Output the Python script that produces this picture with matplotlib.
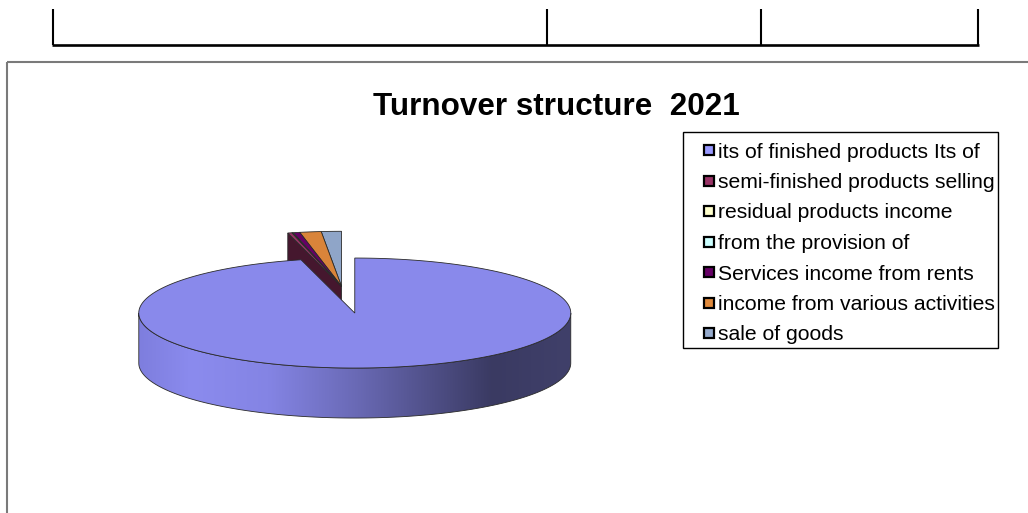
import numpy as np
import matplotlib
matplotlib.use("Agg")
import matplotlib.pyplot as plt
from matplotlib.patches import Polygon, Rectangle
from matplotlib.colors import LinearSegmentedColormap, to_rgb

# ---- data ----
categories = [
    "its of finished products Its of",
    "semi-finished products selling",
    "residual products income",
    "from the provision of",
    "Services income from rents",
    "income from various activities",
    "sale of goods",
]
values = [96.0, 0.3, 0.05, 0.05, 0.5, 1.6, 1.5]
explode = [0.49, 0, 0, 0, 0, 0, 0]
slice_colors = ["#8989EB", "#993366", "#FFFFCC", "#CCFFFF", "#660066", "#D9843A", "#8FA5C8"]
legend_colors = ["#9999FF", "#993366", "#FFFFCC", "#CCFFFF", "#660066", "#E08A3C", "#95AACC"]
title = "Turnover structure  2021"

# ---- layout ----
W, H = 1028, 513
fig = plt.figure(figsize=(W / 100, H / 100), dpi=100)
ax = fig.add_axes([0, 0, 1, 1])
ax.set_xlim(0, W)
ax.set_ylim(H, 0)
ax.axis("off")

# table fragment at top of page
for x in [53, 547, 761, 978]:
    ax.plot([x, x], [9, 45], color="black", lw=1.5, solid_capstyle="butt")
ax.plot([52, 979], [45, 45], color="black", lw=1.9, solid_capstyle="butt")

# chart border
ax.plot([7, W], [62, 62], color="#7a7a7a", lw=1.5, solid_capstyle="butt")
ax.plot([7, 7], [62, H], color="#7a7a7a", lw=1.5, solid_capstyle="butt")

# title
ax.text(556.5, 115, title, ha="center", va="baseline", fontsize=22.6,
        fontweight="bold", family="Liberation Sans", color="black")

# ---- 3D pie ----
cx0, cy0 = 341.5, 286.3   # undisplaced pie centre (top face)
rx, ry, depth = 216.0, 55.0, 50.0
edge = "#2a2a2a"

vals = np.array(values, dtype=float)
fr = vals / vals.sum()
bounds = np.concatenate([[0], np.cumsum(fr)]) * 360.0


def pt(c, th, dz=0.0):
    t = np.radians(th)
    return c[0] + rx * np.sin(t), c[1] - ry * np.cos(t) + dz


def arc(c, a0, a1, dz=0.0, n=None):
    if n is None:
        n = max(3, int(abs(a1 - a0) * 1.5))
    th = np.linspace(a0, a1, n)
    t = np.radians(th)
    return np.column_stack([c[0] + rx * np.sin(t), c[1] - ry * np.cos(t) + dz])


def dark(col, f):
    r, g, b = to_rgb(col)
    return (r * f, g * f, b * f)


centres = []
for i in range(len(vals)):
    m = np.radians((bounds[i] + bounds[i + 1]) / 2)
    e = explode[i]
    centres.append((cx0 + e * rx * np.sin(m), cy0 - e * ry * np.cos(m)))

grad = LinearSegmentedColormap.from_list("side", [
    (0.0, (126 / 255, 126 / 255, 222 / 255)),
    (0.12, (139 / 255, 139 / 255, 238 / 255)),
    (0.3, (132 / 255, 132 / 255, 228 / 255)),
    (0.5, (106 / 255, 106 / 255, 182 / 255)),
    (0.82, (58 / 255, 58 / 255, 98 / 255)),
    (1.0, (64 / 255, 64 / 255, 106 / 255)),
])

# draw back (small) slices first, big slice last
order = sorted(range(len(vals)), key=lambda k: -abs(180 - (bounds[k] + bounds[k + 1]) / 2))
for i in order:
    c = centres[i]
    a0, a1 = bounds[i], bounds[i + 1]
    col = slice_colors[i]
    prev_same = i > 0 and explode[i - 1] == explode[i]
    next_same = i < len(vals) - 1 and explode[i + 1] == explode[i]
    # start radial face
    n0 = a0 - 90
    if -np.cos(np.radians(n0)) > 1e-3 and not prev_same:
        p = pt(c, a0)
        face = [c, p, (p[0], p[1] + depth), (c[0], c[1] + depth)]
        ax.add_patch(Polygon(face, closed=True, fc=dark(col, 0.45), ec=edge, lw=0.6))
    n1 = a1 + 90
    if -np.cos(np.radians(n1)) > 1e-3 and not next_same:
        p = pt(c, a1)
        face = [c, p, (p[0], p[1] + depth), (c[0], c[1] + depth)]
        ax.add_patch(Polygon(face, closed=True, fc=dark(col, 0.45), ec=edge, lw=0.6))
    # outer front wall
    w0, w1 = max(a0, 90), min(a1, 270)
    if w1 > w0:
        top = arc(c, w0, w1)
        bot = arc(c, w0, w1, depth)[::-1]
        wall = np.vstack([top, bot])
        wp = Polygon(wall, closed=True, fc="none", ec=edge, lw=0.6, zorder=3)
        ax.add_patch(wp)
        xs = wall[:, 0]
        ys = wall[:, 1]
        g = np.linspace(0, 1, 256).reshape(1, -1)
        im = ax.imshow(g, cmap=grad, aspect="auto",
                       extent=[xs.min(), xs.max(), ys.max(), ys.min()], zorder=2,
                       interpolation="bilinear")
        im.set_clip_path(wp)
    # top face
    topface = np.vstack([[c], arc(c, a0, a1)])
    ax.add_patch(Polygon(topface, closed=True, fc=col, ec=edge, lw=0.6, zorder=4))

# ---- legend ----
lx0, ly0, lx1, ly1 = 683, 132, 998, 348
ax.add_patch(Rectangle((lx0, ly0), lx1 - lx0, ly1 - ly0, fc="white", ec="black", lw=1.0, zorder=5))
row0, step = 150, 30.5
for k, (lab, lc) in enumerate(zip(categories, legend_colors)):
    yc = row0 + k * step
    ax.add_patch(Rectangle((703.5, yc - 5), 10, 10, fc=lc, ec="black", lw=1.6, zorder=6))
    ax.text(717.5, yc, lab, ha="left", va="center_baseline", fontsize=15.2,
            family="Liberation Sans", color="black", zorder=6)

fig.savefig("out.png", dpi=100)
